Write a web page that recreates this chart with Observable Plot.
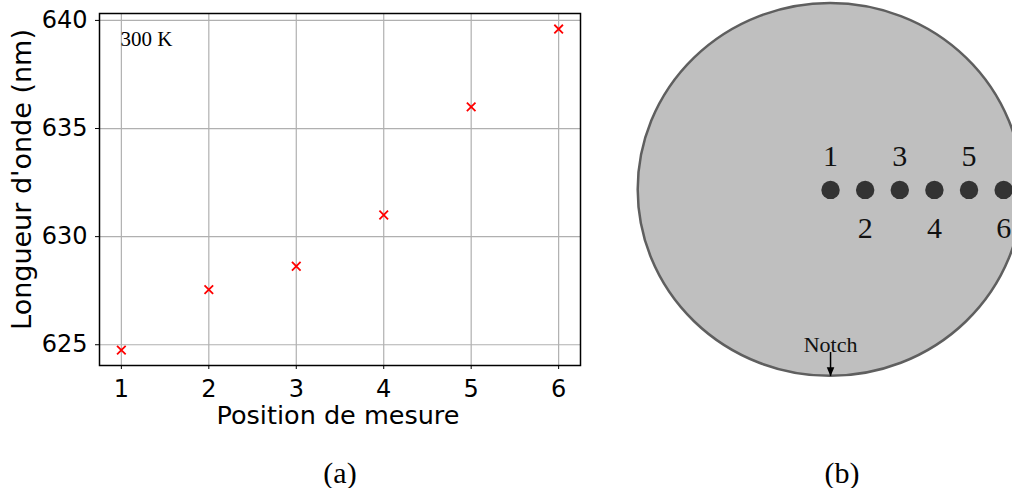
<!DOCTYPE html>
<html><head><meta charset="utf-8">
<script src="https://cdn.jsdelivr.net/npm/d3@7"></script>
<script src="https://cdn.jsdelivr.net/npm/@observablehq/plot@0.6"></script>
<style>
html,body{margin:0;padding:0;background:#fff;overflow:hidden;width:1012px;height:488px;}
#wrap{position:relative;width:1012px;height:488px;overflow:hidden;}
#pa{position:absolute;left:0;top:0;width:600px;height:440px;}
#pb{position:absolute;left:600px;top:0;width:412px;height:440px;}
.cap{position:absolute;top:458px;width:100px;text-align:center;font-family:"Liberation Serif",serif;font-size:30px;line-height:30px;color:#000;}
#capa{left:290px;}
#capb{left:792px;}
</style></head><body>
<div id="wrap"><div id="pa"></div><div id="pb"></div>
<div class="cap" id="capa"></div><div class="cap" id="capb"></div></div>
<script>
// ---------- panel (a) data ----------
const positions = [1, 2, 3, 4, 5, 6];
const wavelengths = [624.75, 627.55, 628.63, 631.0, 636.0, 639.6];
const xTicks = [1, 2, 3, 4, 5, 6];
const yTicks = [625, 630, 635, 640];
const tempLabel = "300 K";
const xLabel = "Position de mesure";
const yLabel = "Longueur d'onde (nm)";

// ---------- panel (b) data (wafer map, mm from centre) ----------
const spotIds = ["1", "2", "3", "4", "5", "6"];
const spotX = [0, 9, 18, 27, 36, 45];
const spotY = [0, 0, 0, 0, 0, 0];
const waferRadius = 50;
const notchText = "Notch";
const captions = ["(a)", "(b)"];

const serif = "Liberation Serif, serif";

// ---------- panel (a) ----------
const meas = positions.map((p, i) => ({p, w: wavelengths[i]}));
const plotA = Plot.plot({
  width: 600, height: 440,
  marginLeft: 99, marginRight: 20, marginTop: 13, marginBottom: 75,
  style: {fontFamily: "DejaVu Sans, sans-serif", fontSize: "24px", color: "black", background: "white", overflow: "visible"},
  x: {domain: [0.75, 6.25], ticks: xTicks, tickSize: 4, tickPadding: 10, label: null, tickFormat: d3.format("d")},
  y: {domain: [624.04, 640.32], ticks: yTicks, tickSize: 4, tickPadding: 8, label: null, tickFormat: d3.format("d")},
  marks: [
    Plot.ruleX(xTicks, {stroke: "#b0b0b0", strokeWidth: 1.2}),
    Plot.ruleY(yTicks, {stroke: "#b0b0b0", strokeWidth: 1.2}),
    Plot.frame({stroke: "black", strokeWidth: 1.5}),
    Plot.dot(meas, {x: "p", y: "w", symbol: "times", r: 4, stroke: "red", strokeWidth: 1.8}),
    Plot.text([tempLabel], {text: d => d, frameAnchor: "top-left", dx: 21, dy: 26, textAnchor: "start", lineAnchor: "middle", fontFamily: serif, fontSize: 21, fill: "black"}),
    Plot.text([xLabel], {text: d => d, frameAnchor: "bottom", dy: 50, dx: -2, textAnchor: "middle", lineAnchor: "middle", fontSize: 25.5, fill: "black"}),
    Plot.text([yLabel], {text: d => d, frameAnchor: "left", dx: -77, dy: -10, rotate: -90, textAnchor: "middle", lineAnchor: "middle", fontSize: 27, fill: "black"})
  ]
});
document.getElementById("pa").appendChild(plotA);

// ---------- panel (b) ----------
const spots = spotIds.map((id, i) => ({id, x: spotX[i], y: spotY[i], odd: i % 2 === 0}));
const wafer = [{x1: -waferRadius, x2: waferRadius, y1: -waferRadius, y2: waferRadius}];
const notch = [{x: 0, y: -waferRadius, top: -waferRadius + 6.4, label: notchText}];
const arrowHead = {draw(ctx) { ctx.moveTo(0, 0); ctx.lineTo(-3.8, -9); ctx.lineTo(3.8, -9); ctx.closePath(); }};

const plotB = Plot.plot({
  width: 412, height: 440,
  marginLeft: 0, marginRight: 0, marginTop: 0, marginBottom: 0,
  style: {background: "transparent", color: "black", overflow: "visible"},
  x: {domain: [-59.8, 47.3], axis: null},
  y: {domain: [-67.2, 50.8], axis: null},
  marks: [
    Plot.rect(wafer, {x1: "x1", x2: "x2", y1: "y1", y2: "y2", rx: 1000, ry: 1000, fill: "#bfbfbf", stroke: "#5f5f5f", strokeWidth: 2.5}),
    Plot.dot(spots, {x: "x", y: "y", r: 9.2, fill: "#333333", stroke: "none"}),
    Plot.text(spots.filter(d => d.odd), {x: "x", y: "y", text: "id", dy: -34, fontFamily: serif, fontSize: 30, fill: "#111"}),
    Plot.text(spots.filter(d => !d.odd), {x: "x", y: "y", text: "id", dy: 38, fontFamily: serif, fontSize: 30, fill: "#111"}),
    Plot.text(notch, {x: "x", y: "y", text: "label", dy: -31, fontFamily: serif, fontSize: 22, fill: "#111"}),
    Plot.ruleX(notch, {x: "x", y1: "top", y2: "y", stroke: "black", strokeWidth: 1.5}),
    Plot.dot(notch, {x: "x", y: "y", symbol: arrowHead, fill: "black", stroke: "none"})
  ]
});
document.getElementById("pb").appendChild(plotB);

document.getElementById("capa").textContent = captions[0];
document.getElementById("capb").textContent = captions[1];
</script>
</body></html>
